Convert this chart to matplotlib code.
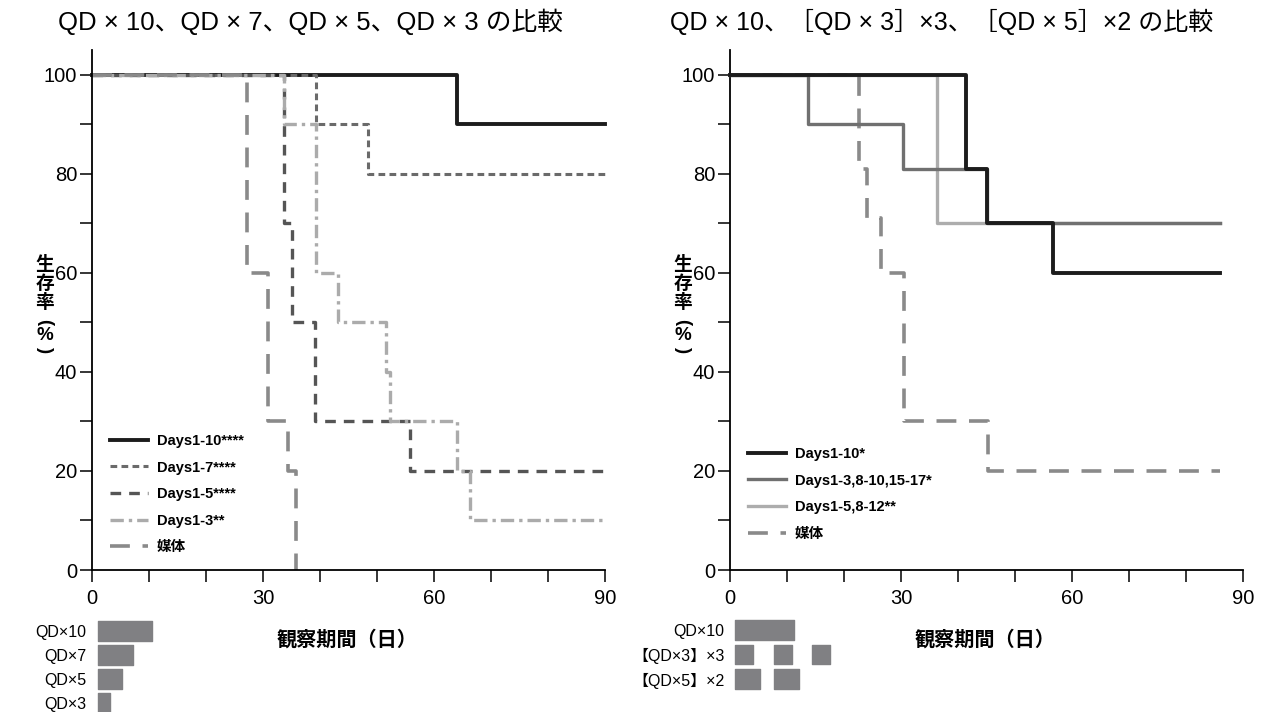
import numpy as np
import matplotlib.pyplot as plt

plt.rcParams['font.family'] = ['Liberation Sans', 'Noto Sans CJK JP']

# left panel: survival curves (day, % survival), step-post
l_d10_t = [0, 64, 90]
l_d10_v = [100, 90, 90]
l_d7_t = [0, 39.3, 48.4, 90]
l_d7_v = [100, 90, 80, 80]
l_d5_t = [0, 33.7, 35.1, 39.1, 55.8, 90]
l_d5_v = [100, 70, 50, 30, 20, 20]
l_d3_t = [0, 33.7, 39.3, 43.2, 51.5, 52.3, 64.0, 66.3, 90]
l_d3_v = [100, 90, 60, 50, 40, 30, 20, 10, 10]
l_veh_t = [0, 27.2, 30.9, 34.4, 35.8]
l_veh_v = [100, 60, 30, 20, 0]

# right panel
r_d10_t = [0, 41.4, 45.1, 56.7, 86]
r_d10_v = [100, 81, 70, 60, 60]
r_d3x3_t = [0, 13.7, 30.4, 45.1, 86]
r_d3x3_v = [100, 90, 81, 70, 70]
r_d5x2_t = [0, 36.3, 86]
r_d5x2_v = [100, 70, 70]
r_veh_t = [0, 22.6, 24.0, 26.5, 30.5, 45.2, 86]
r_veh_v = [100, 81, 71, 60, 30, 20, 20]

# dosing schedules (start day, end day)
l_sched_labels = ['QD×10', 'QD×7', 'QD×5', 'QD×3']
l_sched = [[(1, 10.5)], [(1, 7.2)], [(1, 5.3)], [(1, 3.2)]]
r_sched_labels = ['QD×10', '【QD×3】×3', '【QD×5】×2']
r_sched = [[(0.9, 11.2)],
           [(0.9, 4.0), (7.7, 10.9), (14.4, 17.5)],
           [(0.9, 5.3), (7.7, 12.1)]]

W, H = 1264, 712
fig = plt.figure(figsize=(W / 100, H / 100), dpi=100)

def px_axes(x0, x1, ytop, ybot):
    return fig.add_axes([x0 / W, 1 - ybot / H, (x1 - x0) / W, (ybot - ytop) / H])

def ylabel(x):
    # vertical Japanese label: 生存率（%）
    kw = dict(ha='center', va='center', fontsize=13.5, fontweight='bold')
    fig.text(x / W, 1 - 284 / H, '生\n存\n率', linespacing=1.12, **kw)
    fig.text(x / W, 1 - 322 / H, '(', rotation=-90, **kw)
    fig.text(x / W, 1 - 335 / H, '%', **kw)
    fig.text(x / W, 1 - 350 / H, ')', rotation=-90, **kw)

def style_axes(ax, ylab_x):
    ax.set_xlim(0, 90)
    ax.set_ylim(0, 105)
    ax.spines['top'].set_visible(False)
    ax.spines['right'].set_visible(False)
    ax.spines['left'].set_linewidth(1.3)
    ax.spines['bottom'].set_linewidth(1.3)
    ax.set_xticks([0, 30, 60, 90])
    ax.set_xticks(np.arange(0, 91, 10), minor=True)
    ax.set_yticks(np.arange(0, 101, 20))
    ax.set_yticks(np.arange(0, 101, 10), minor=True)
    ax.tick_params(which='both', direction='out', length=8.7, width=1.1, labelsize=14.5)
    ax.tick_params(axis='y', pad=2)
    ax.tick_params(axis='x', pad=5)
    ylabel(ylab_x)

def sched_axes(ax, labels, sched):
    for i, segs in enumerate(sched):
        ax.broken_barh([(a, b - a) for a, b in segs], (i - 0.4, 0.8), color='#808083')
    ax.set_xlim(0, 90)
    ax.set_yticks(range(len(labels)))
    ax.set_yticklabels(labels, fontsize=11.5)
    ax.tick_params(length=0, pad=4)
    ax.set_xticks([])
    for s in ax.spines.values():
        s.set_visible(False)
    ax.patch.set_alpha(0)

leg_kw = dict(loc='upper left', frameon=False, borderpad=0, borderaxespad=0,
              handlelength=2.6, handletextpad=0.6, labelspacing=0.86,
              prop={'weight': 'bold', 'size': 10.5})

# ---- left ----
ax1 = px_axes(92, 605, 50, 570)
ax1.step(l_d10_t, l_d10_v, where='post', color='#1c1c1c', lw=2.8, label='Days1-10****', clip_on=False)
ax1.step(l_d7_t, l_d7_v, where='post', color='#6a6a6a', lw=2.2, ls=(0, (2.2, 1.4)), label='Days1-7****', clip_on=False)
ax1.step(l_d5_t, l_d5_v, where='post', color='#555555', lw=2.4, ls=(0, (3.2, 2.4)), label='Days1-5****', clip_on=False)
ax1.step(l_d3_t, l_d3_v, where='post', color='#ababab', lw=2.4, ls=(0, (4, 1.5, 1, 1.5)), label='Days1-3**', clip_on=False)
ax1.step(l_veh_t, l_veh_v, where='post', color='#8a8a8a', lw=2.6, ls=(0, (5.5, 3.5)), label='媒体', clip_on=False)
style_axes(ax1, 45)
ax1.legend(bbox_to_anchor=(18 / 513, 136 / 520), **leg_kw)
fig.text(310 / W, 1 - 22 / H, 'QD × 10、QD × 7、QD × 5、QD × 3 の比較', ha='center', va='center',
         fontsize=18.5)
fig.text(347 / W, 1 - 640 / H, '観察期間（日）', ha='center', va='center', fontsize=14.5, fontweight='bold')

bx1 = px_axes(92, 605, 619, 715)
sched_axes(bx1, l_sched_labels, l_sched)
bx1.set_ylim(3.5, -0.5)

# ---- right ----
ax2 = px_axes(730, 1243, 50, 570)
ax2.step(r_d10_t, r_d10_v, where='post', color='#1c1c1c', lw=2.8, label='Days1-10*', clip_on=False, zorder=4)
ax2.step(r_d3x3_t, r_d3x3_v, where='post', color='#707070', lw=2.4, label='Days1-3,8-10,15-17*', clip_on=False, zorder=3)
ax2.step(r_d5x2_t, r_d5x2_v, where='post', color='#adadad', lw=2.4, label='Days1-5,8-12**', clip_on=False, zorder=2)
ax2.step(r_veh_t, r_veh_v, where='post', color='#8a8a8a', lw=2.6, ls=(0, (5.5, 3.5)), label='媒体', clip_on=False, zorder=2)
style_axes(ax2, 683)
ax2.legend(bbox_to_anchor=(18 / 513, 123 / 520), **leg_kw)
fig.text(942 / W, 1 - 22 / H, 'QD × 10、［QD × 3］×3、［QD × 5］×2 の比較', ha='center', va='center',
         fontsize=18)
fig.text(985 / W, 1 - 640 / H, '観察期間（日）', ha='center', va='center', fontsize=14.5, fontweight='bold')

bx2 = px_axes(730, 1243, 618, 715)
sched_axes(bx2, r_sched_labels, r_sched)
bx2.set_ylim(3.47, -0.49)

fig.savefig('out.png', dpi=100)
